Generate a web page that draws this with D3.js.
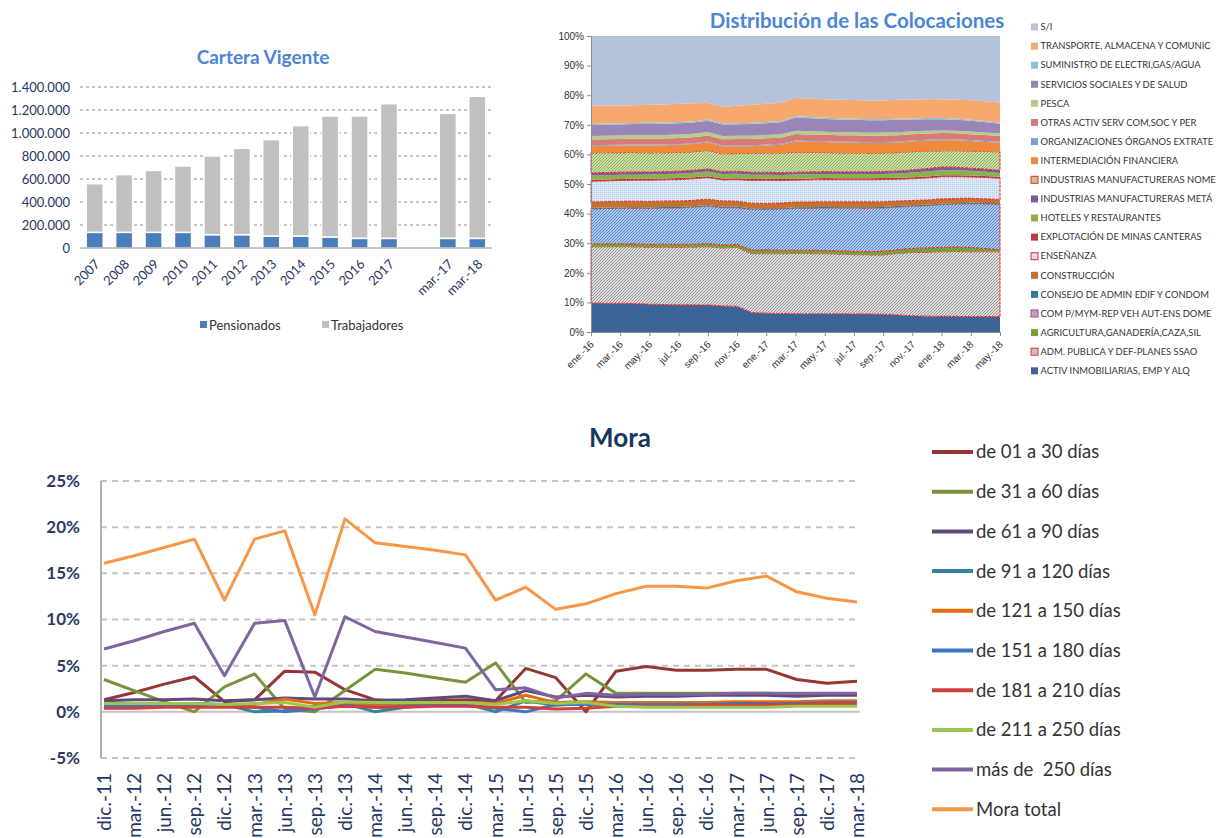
<!DOCTYPE html>
<html lang="es">
<head>
<meta charset="UTF-8">
<title>Cartera, Colocaciones y Mora</title>
<script src="https://cdn.jsdelivr.net/npm/d3@7/dist/d3.min.js"></script>
<style>
  body { margin: 0; background: #fff; }
  svg { font-family: Lato, "Open Sans", "Noto Sans", sans-serif; }
  .title1 { font-size: 19px; font-weight: 700; fill: #4a86d4; }
  .tick1 { font-size: 13px; fill: #1f3864; }
  .leg1 { font-size: 13px; fill: #333; }
  .tick2 { font-size: 10px; fill: #333; }
  .leg2 { font-size: 9.4px; fill: #333; }
  .tick3 { font-size: 17px; font-weight: 700; fill: #2b3a67; }
  .xlab3 { font-size: 19px; fill: #1f3864; }
  .leg3 { font-size: 18.5px; fill: #333; white-space: pre; }
</style>
</head>
<body>
<div id="chart"></div>
<script>
// ---------- Cartera Vigente ----------
const cvCats = ["2007","2008","2009","2010","2011","2012","2013","2014","2015","2016","2017"," ","mar.-17","mar.-18"];
const pensionados = [136000,136000,136000,136000,116000,116000,104000,104000,96000,84000,84000,null,84000,84000];
const trabajadores = [423000,502000,539000,577000,684000,751000,838000,960000,1052000,1064000,1171000,null,1087000,1235000];
const cvTicks = [0,200000,400000,600000,800000,1000000,1200000,1400000];

// ---------- Distribución de las Colocaciones ----------
const months = ["ene.-16","feb.-16","mar.-16","abr.-16","may.-16","jun.-16","jul.-16","ago.-16","sep.-16","oct.-16","nov.-16","dic.-16",
  "ene.-17","feb.-17","mar.-17","abr.-17","may.-17","jun.-17","jul.-17","ago.-17","sep.-17","oct.-17","nov.-17","dic.-17",
  "ene.-18","feb.-18","mar.-18","abr.-18","may.-18"];
const sectors = ["ACTIV INMOBILIARIAS, EMP Y ALQ","ADM. PUBLICA Y DEF-PLANES SSAO","AGRICULTURA,GANADERÍA,CAZA,SIL",
  "COM P/MYM-REP VEH AUT-ENS DOME","CONSEJO DE ADMIN EDIF Y CONDOM","CONSTRUCCIÓN","ENSEÑANZA","EXPLOTACIÓN DE MINAS CANTERAS",
  "HOTELES Y RESTAURANTES","INDUSTRIAS MANUFACTURERAS METÁ","INDUSTRIAS MANUFACTURERAS NOME","INTERMEDIACIÓN FINANCIERA",
  "ORGANIZACIONES ÓRGANOS EXTRATE","OTRAS ACTIV SERV COM,SOC Y PER","PESCA","SERVICIOS SOCIALES Y DE SALUD",
  "SUMINISTRO DE ELECTRI,GAS/AGUA","TRANSPORTE, ALMACENA Y COMUNIC","S/I"];
const activ    = [9.8,9.7,9.7,9.6,9.4,9.3,9.2,9.2,9.1,8.9,8.7,6.5,6.3,6.2,6.2,6.2,6.2,6.2,6.1,6.1,6.0,5.8,5.5,5.4,5.3,5.3,5.2,5.2,5.2];
const adm      = [18.9,19.0,19.1,19.2,19.3,19.4,19.5,19.6,19.7,19.8,20.0,19.7,20.0,20.2,20.4,20.4,20.3,20.2,20.1,20.0,20.1,20.9,21.5,21.7,21.9,22.0,21.9,21.9,21.9];
const agri     = [1.0,1.0,1.0,1.0,1.0,1.0,1.0,1.0,1.0,1.0,1.0,1.2,1.3,1.2,1.1,1.1,1.1,1.1,1.1,1.1,1.2,1.3,1.4,1.5,1.5,1.5,1.5,1.0,0.7];
const comMym   = [11.8,11.9,12.0,12.1,12.2,12.3,12.4,12.6,12.7,12.7,12.5,13.6,13.7,13.9,14.2,14.3,14.4,14.5,14.7,14.7,14.7,14.5,14.4,14.4,14.5,14.6,14.8,15.1,15.4];
const consejo  = [0.3,0.3,0.3,0.3,0.3,0.3,0.3,0.3,0.3,0.3,0.3,0.3,0.3,0.3,0.3,0.3,0.3,0.3,0.3,0.3,0.3,0.3,0.3,0.3,0.3,0.3,0.3,0.3,0.3];
const constr   = [2.0,2.0,2.0,2.0,2.0,2.0,2.0,2.0,2.0,2.0,1.9,1.7,1.6,1.7,1.8,1.8,1.8,1.8,1.8,1.8,1.8,1.7,1.6,1.6,1.6,1.6,1.5,1.4,1.3];
const ensenanza= [7.0,7.0,7.1,7.1,7.2,7.2,7.3,7.3,7.3,7.2,7.3,7.6,7.8,7.6,7.4,7.5,7.5,7.5,7.5,7.5,7.5,7.4,7.4,7.5,7.5,7.4,7.2,7.2,7.2];
const explot   = [0.5,0.5,0.5,0.5,0.5,0.5,0.5,0.5,0.5,0.5,0.5,0.5,0.5,0.5,0.5,0.5,0.5,0.5,0.5,0.5,0.5,0.5,0.5,0.5,0.5,0.5,0.5,0.5,0.5];
const hoteles  = [1.4,1.4,1.4,1.4,1.5,1.5,1.5,1.6,1.6,1.5,1.5,1.4,1.4,1.4,1.4,1.4,1.4,1.4,1.4,1.4,1.4,1.5,1.6,1.7,1.7,1.7,1.6,1.4,1.3];
const meta     = [0.9,0.9,0.9,0.9,0.8,0.8,0.8,0.8,0.8,0.8,0.9,0.9,0.8,0.8,0.8,0.8,0.8,0.8,0.8,0.8,0.8,0.8,0.9,1.0,1.1,1.0,0.9,0.9,0.9];
const nome     = [6.7,6.7,6.6,6.6,6.5,6.4,6.4,6.3,6.3,6.1,6.0,6.3,6.5,6.6,6.8,6.6,6.5,6.4,6.4,6.3,6.3,6.3,6.2,6.0,5.5,5.6,5.8,6.0,6.2];
const intermed = [2.3,2.3,2.4,2.4,2.5,2.5,2.6,2.6,2.7,2.6,2.5,2.4,2.5,2.8,3.6,3.6,3.5,3.5,3.5,3.4,3.4,3.4,3.5,3.5,3.6,3.5,3.4,3.2,3.1];
const organiz  = [0.3,0.3,0.3,0.3,0.3,0.3,0.3,0.3,0.3,0.3,0.3,0.3,0.3,0.3,0.3,0.3,0.3,0.3,0.3,0.3,0.3,0.3,0.3,0.3,0.3,0.3,0.3,0.3,0.3];
const otras    = [1.9,1.9,1.9,2.0,2.0,2.0,2.0,2.0,2.0,2.1,2.1,2.1,2.1,2.1,2.2,2.2,2.2,2.2,2.2,2.2,2.2,2.2,2.1,2.1,2.1,2.1,2.0,2.0,2.0];
const pesca    = [1.2,1.2,1.2,1.2,1.2,1.2,1.2,1.2,1.2,1.1,1.1,1.1,1.1,1.1,1.1,1.1,1.0,1.0,1.0,1.0,1.0,1.0,1.0,1.0,0.9,0.9,0.9,0.9,0.9];
const servSoc  = [3.7,3.7,3.7,3.7,3.8,3.8,3.8,3.8,3.8,3.9,3.9,3.9,4.0,4.1,4.5,4.4,4.3,4.3,4.2,4.2,4.2,4.2,4.0,3.9,3.8,3.7,3.6,3.4,3.2];
const suminis  = [0.4,0.4,0.4,0.4,0.4,0.4,0.4,0.4,0.4,0.4,0.4,0.4,0.4,0.4,0.4,0.4,0.4,0.4,0.4,0.4,0.4,0.4,0.4,0.4,0.4,0.4,0.4,0.4,0.4];
const transp   = [6.1,6.0,6.0,6.0,6.1,6.1,6.2,6.2,5.7,5.6,5.9,6.0,6.1,6.2,6.2,6.3,6.3,6.3,6.3,6.3,6.3,6.4,6.4,6.4,6.4,6.5,6.6,6.7,6.8];
const sinInfo  = [23.5,23.5,23.5,23.4,23.3,23.2,23.0,22.8,22.5,24.2,23.7,23.0,22.8,22.5,21.0,21.2,21.4,21.6,21.7,21.8,21.8,21.7,21.6,21.5,21.4,21.5,21.7,22.0,22.5];
const sectorValues = [activ,adm,agri,comMym,consejo,constr,ensenanza,explot,hoteles,meta,nome,intermed,organiz,otras,pesca,servSoc,suminis,transp,sinInfo];
const sectorFills = ["#3c6499","url(#hGrey)","#77a03a","url(#hBlue)","#2c7c9c","#c3732f","url(#dotBlue)","#b83b3b","#8cb04c","#7b5b9c",
  "url(#hGreen)","#ee8a3c","#7ea0d0","#d67b78","#b6cd8a","#9a86b6","#8cc3d6","#f7a86e","#b4c2dc"];
const sectorHatched = [false,true,false,true,false,false,true,false,false,false,true,false,false,false,false,false,false,false,false];
const pctTicks = [0,0.1,0.2,0.3,0.4,0.5,0.6,0.7,0.8,0.9,1];

// ---------- Mora ----------
const quarters = ["dic.-11","mar.-12","jun.-12","sep.-12","dic.-12","mar.-13","jun.-13","sep.-13","dic.-13","mar.-14","jun.-14","sep.-14","dic.-14",
  "mar.-15","jun.-15","sep.-15","dic.-15","mar.-16","jun.-16","sep.-16","dic.-16","mar.-17","jun.-17","sep.-17","dic.-17","mar.-18"];
const moraNames = ["de 01 a 30 días","de 31 a 60 días","de 61 a 90 días","de 91 a 120 días","de 121 a 150 días","de 151 a 180 días",
  "de 181 a 210 días","de 211 a 250 días","más de  250 días","Mora total"];
const moraColors = ["#953735","#77933c","#604a7b","#31859c","#e46c0a","#3a78c6","#d0403c","#9bc750","#8064a2","#f79646"];
const d01_30   = [1.3,2.1,3.0,3.8,1.1,1.3,4.4,4.3,2.4,1.3,1.2,1.2,1.3,1.2,4.7,3.7,0.0,4.4,4.9,4.5,4.5,4.6,4.6,3.5,3.1,3.3];
const d31_60   = [3.5,2.3,1.1,0.0,2.7,4.1,0.3,0.0,2.3,4.6,4.2,3.7,3.2,5.3,1.0,1.2,4.1,2.0,2.0,2.0,2.0,2.0,2.0,1.9,1.9,1.9];
const d61_90   = [1.2,1.3,1.3,1.4,1.2,1.3,1.5,1.4,1.4,1.2,1.3,1.5,1.7,1.2,2.3,1.6,1.8,1.6,1.7,1.7,1.8,1.8,1.8,1.7,1.8,1.8];
const d91_120  = [0.9,0.9,0.9,0.9,0.8,0.0,0.1,0.6,0.9,0.0,0.5,0.8,0.9,0.0,1.2,0.7,0.9,0.9,0.9,1.0,1.0,1.0,1.0,1.0,1.0,1.0];
const d121_150 = [0.7,0.7,0.7,0.8,0.7,0.8,1.4,0.9,1.0,0.8,0.9,0.9,1.0,0.9,1.8,1.0,1.1,1.0,1.0,1.0,1.0,1.1,1.1,1.1,1.2,1.2];
const d151_180 = [0.6,0.6,0.6,0.6,0.6,0.5,0.0,0.3,0.7,0.5,0.6,0.7,0.8,0.4,0.0,0.8,0.8,0.8,0.8,0.8,0.8,0.9,0.9,0.9,1.0,1.0];
const d181_210 = [0.4,0.4,0.5,0.5,0.5,0.5,0.5,0.4,0.6,0.5,0.5,0.6,0.6,0.5,0.5,0.3,0.4,0.6,0.6,0.6,0.7,0.7,0.8,0.8,0.9,0.9];
const d211_250 = [0.9,0.9,0.9,0.9,0.8,0.9,1.0,0.5,1.1,1.0,1.0,1.0,1.0,0.8,1.2,0.9,1.0,0.6,0.5,0.5,0.5,0.5,0.5,0.6,0.6,0.6];
const mas250   = [6.8,7.7,8.7,9.6,3.9,9.6,9.9,1.6,10.3,8.7,8.1,7.5,6.9,2.4,2.6,1.5,2.0,1.8,1.9,1.9,1.9,2.0,2.0,2.0,2.0,2.0];
const moraTotal= [16.1,16.9,17.8,18.7,12.1,18.7,19.6,10.5,20.9,18.3,17.9,17.5,17.0,12.1,13.5,11.1,11.7,12.8,13.6,13.6,13.4,14.2,14.7,13.0,12.3,11.9];
const moraValues = [d01_30,d31_60,d61_90,d91_120,d121_150,d151_180,d181_210,d211_250,mas250,moraTotal];
const moraTicks = [-5,0,5,10,15,20,25];

const svg = d3.select("#chart").append("svg").attr("width", 1221).attr("height", 838);
const defs = svg.append("defs");

// fine "////" hatching, like the Excel pattern fills
function hatch(id, color, w) {
  const p = defs.append("pattern").attr("id", id).attr("width", 3).attr("height", 3).attr("patternUnits", "userSpaceOnUse");
  p.append("rect").attr("width", 3).attr("height", 3).attr("fill", "#fff");
  p.append("path").attr("d", "M-1,1 l2,-2 M0,3 l3,-3 M2,4 l2,-2").attr("stroke", color).attr("stroke-width", w);
}
hatch("hGrey", "#8a8a8a", 1.05);
hatch("hBlue", "#4f86d2", 1.3);
hatch("hGreen", "#8db24c", 1.3);
{
  const p = defs.append("pattern").attr("id", "dotBlue").attr("width", 2).attr("height", 2).attr("patternUnits", "userSpaceOnUse");
  p.append("rect").attr("width", 2).attr("height", 2).attr("fill", "#dde8f6");
  p.append("rect").attr("width", 0.8).attr("height", 1).attr("fill", "#a9c3e6");
}

// ===== Panel 1: Cartera Vigente =====
{
  const g = svg.append("g");
  const x = d3.scaleBand(cvCats, [80, 492]).paddingInner(0.42).paddingOuter(0.21);
  const y = d3.scaleLinear([0, 1400000], [248, 87]);
  const fmt = d3.formatLocale({ decimal: ",", thousands: ".", grouping: [3], currency: ["", ""] }).format(",");

  g.append("text").attr("class", "title1").attr("x", 263).attr("y", 64).attr("text-anchor", "middle").text("Cartera Vigente");

  g.append("g").selectAll("line").data(cvTicks.filter(d => d > 0)).join("line")
    .attr("x1", 80).attr("x2", 492).attr("y1", d => y(d)).attr("y2", d => y(d))
    .attr("stroke", "#8c8c8c").attr("stroke-dasharray", "3,3");
  g.append("g").selectAll("text").data(cvTicks).join("text").attr("class", "tick1")
    .attr("x", 70).attr("y", d => y(d)).attr("dy", "0.35em").attr("text-anchor", "end").text(d => fmt(d));

  const rows = cvCats.map((c, i) => ({ c, p: pensionados[i], t: trabajadores[i] })).filter(d => d.p != null);
  g.append("g").selectAll("rect").data(rows).join("rect")
    .attr("x", d => x(d.c)).attr("width", x.bandwidth())
    .attr("y", d => y(d.p)).attr("height", d => y(0) - y(d.p))
    .attr("fill", "#4a7ebb").attr("stroke", "#fff").attr("stroke-width", 1.5);
  g.append("g").selectAll("rect").data(rows).join("rect")
    .attr("x", d => x(d.c)).attr("width", x.bandwidth())
    .attr("y", d => y(d.p + d.t)).attr("height", d => y(d.p) - y(d.p + d.t))
    .attr("fill", "#c0c0c0").attr("stroke", "#fff").attr("stroke-width", 1.5);

  g.append("line").attr("x1", 80).attr("x2", 492).attr("y1", y(0)).attr("y2", y(0)).attr("stroke", "#8c8c8c");
  g.append("g").selectAll("text").data(cvCats).join("text").attr("class", "tick1").attr("font-size", 14)
    .attr("text-anchor", "end")
    .attr("transform", d => `translate(${x(d) + x.bandwidth() / 2 + 6},${265}) rotate(-45)`)
    .text(d => d.trim());

  const leg = [["Pensionados", "#4a7ebb", 200], ["Trabajadores", "#c0c0c0", 322]];
  g.append("g").selectAll("g").data(leg).join("g").each(function (d) {
    const s = d3.select(this);
    s.append("rect").attr("x", d[2]).attr("y", 321).attr("width", 7).attr("height", 7).attr("fill", d[1]);
    s.append("text").attr("class", "leg1").attr("x", d[2] + 9).attr("y", 325).attr("dy", "0.35em").text(d[0]);
  });
}

// ===== Panel 2: Distribución de las Colocaciones =====
{
  const g = svg.append("g");
  const x = d3.scalePoint(months, [591, 1000]);
  const y = d3.scaleLinear([0, 1], [332, 36]);
  const table = months.map((m, i) => {
    const o = { m };
    sectors.forEach((s, k) => o[s] = sectorValues[k][i]);
    return o;
  });
  const series = d3.stack().keys(sectors).offset(d3.stackOffsetExpand)(table);
  const area = d3.area().x(d => x(d.data.m)).y0(d => y(d[0])).y1(d => y(d[1]));

  g.append("text").attr("x", 857).attr("y", 28).attr("text-anchor", "middle")
    .attr("font-size", 20.5).attr("font-weight", 700).attr("fill", "#4a86d4").text("Distribución de las Colocaciones");

  g.append("g").selectAll("path").data(series).join("path")
    .attr("d", area).attr("fill", (d, i) => sectorFills[i])
    .attr("stroke", (d, i) => sectorHatched[i] ? "#ee2a2a" : "none")
    .attr("stroke-width", 1.1).attr("stroke-dasharray", "3,1");

  const yAxis = d3.axisLeft(y).tickValues(pctTicks).tickFormat(d3.format(".0%")).tickSize(4);
  g.append("g").attr("transform", "translate(591,0)").call(yAxis)
    .call(a => a.selectAll("text").attr("class", "tick2").attr("font-family", null).attr("font-size", 10.5))
    .call(a => a.selectAll("line,path").attr("stroke", "#8c8c8c"));

  const xAxis = d3.axisBottom(x).tickValues(months.filter((m, i) => i % 2 === 0)).tickSize(4);
  g.append("g").attr("transform", "translate(0,332)").call(xAxis)
    .call(a => a.selectAll("line,path").attr("stroke", "#8c8c8c"))
    .call(a => a.selectAll("text").attr("class", "tick2").attr("font-family", null).attr("font-size", 10)
      .attr("text-anchor", "end").attr("x", 0).attr("y", 0).attr("dy", 0)
      .attr("transform", "translate(3,13) rotate(-45)"));

  const legOrder = d3.range(sectors.length).reverse();
  const lg = g.append("g").selectAll("g").data(legOrder).join("g")
    .attr("transform", (d, j) => `translate(1031,${27 + j * 19.1})`);
  lg.append("rect").attr("x", 0).attr("y", -3.5).attr("width", 7).attr("height", 7)
    .attr("fill", d => sectorFills[d])
    .attr("stroke", d => sectorHatched[d] ? "#ee2a2a" : "none").attr("stroke-width", 1);
  lg.append("text").attr("class", "leg2").attr("x", 9.5).attr("dy", "0.35em").text(d => sectors[d]);
}

// ===== Panel 3: Mora =====
{
  const g = svg.append("g");
  const x = d3.scalePoint(quarters, [104, 857]);
  const y = d3.scaleLinear([-5, 25], [758, 481]);

  g.append("text").attr("x", 620).attr("y", 447).attr("text-anchor", "middle")
    .attr("font-size", 26).attr("font-weight", 700).attr("fill", "#17365d").text("Mora");

  g.append("g").selectAll("line").data(moraTicks.filter(d => d !== 0)).join("line")
    .attr("x1", 101).attr("x2", 860).attr("y1", d => y(d)).attr("y2", d => y(d))
    .attr("stroke", "#c4c4c4").attr("stroke-width", 2).attr("stroke-dasharray", "6,5");
  g.append("line").attr("x1", 101).attr("x2", 860).attr("y1", y(0)).attr("y2", y(0))
    .attr("stroke", "#c4c4c4").attr("stroke-width", 2);
  g.append("line").attr("x1", 101).attr("x2", 101).attr("y1", y(25)).attr("y2", y(-5))
    .attr("stroke", "#b0b0b0").attr("stroke-width", 2);

  g.append("g").selectAll("text").data(moraTicks).join("text").attr("class", "tick3")
    .attr("x", 80).attr("y", d => y(d)).attr("dy", "0.35em").attr("text-anchor", "end").text(d => d + "%");
  g.append("g").selectAll("text").data(quarters).join("text").attr("class", "xlab3")
    .attr("text-anchor", "end")
    .attr("transform", d => `translate(${x(d) + 7},${773}) rotate(-90)`)
    .text(d => d);

  const line = d3.line().x((d, i) => x(quarters[i])).y(d => y(d));
  g.append("g").selectAll("path").data(moraValues).join("path")
    .attr("d", line).attr("fill", "none")
    .attr("stroke", (d, i) => moraColors[i]).attr("stroke-width", 3)
    .attr("stroke-linejoin", "round");

  const lg = g.append("g").selectAll("g").data(moraNames).join("g")
    .attr("transform", (d, i) => `translate(932,${452 + i * 39.7})`);
  lg.append("line").attr("x1", 0).attr("x2", 41).attr("stroke", (d, i) => moraColors[i]).attr("stroke-width", 4);
  lg.append("text").attr("class", "leg3").attr("x", 44).attr("dy", "0.35em").text(d => d);
}
</script>
</body>
</html>
